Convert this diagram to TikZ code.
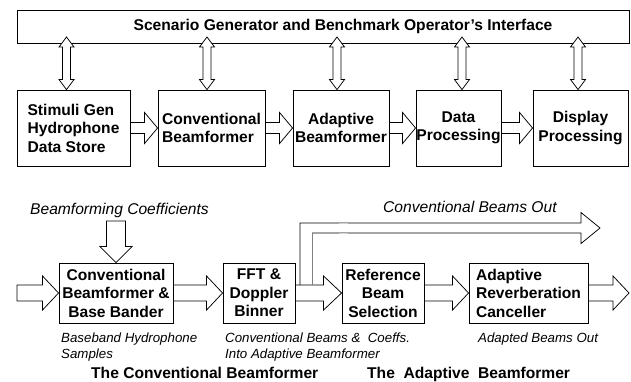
\documentclass[tikz,border=0pt]{standalone}
\usepackage{fontspec}
\setmainfont{Liberation Sans}
\usetikzlibrary{calc}
\tikzset{
  box/.style={draw, line width=0.9pt, inner sep=0pt, align=center,
    font=\bfseries\fontsize{15.6}{18.5}\selectfont},
  fat/.style={draw, line width=0.75pt, fill=white, line join=miter},
  thinl/.style={line width=0.75pt},
  capt/.style={font=\itshape\fontsize{13.3}{16}\selectfont, anchor=base west, inner sep=0pt},
  lbl/.style={font=\itshape\fontsize{15.6}{18}\selectfont, anchor=base west, inner sep=0pt},
  ttl/.style={font=\bfseries\fontsize{15.6}{18}\selectfont, anchor=base west, inner sep=0pt},
}
% horizontal fat arrow: start, tip, half shaft, half head, head length
\newcommand\harrowR[5]{\path[fat] let \p1=(#1), \p2=(#2) in
  (\x1,\y1+#3pt) -- (\x2-#5pt,\y1+#3pt) -- (\x2-#5pt,\y1+#4pt) -- (\x2,\y1)
  -- (\x2-#5pt,\y1-#4pt) -- (\x2-#5pt,\y1-#3pt) -- (\x1,\y1-#3pt) -- cycle;}
% vertical fat arrow pointing down
\newcommand\varrowD[5]{\path[fat] let \p1=(#1), \p2=(#2) in
  (\x1-#3pt,\y1) -- (\x1-#3pt,\y2+#5pt) -- (\x1-#4pt,\y2+#5pt) -- (\x1,\y2)
  -- (\x1+#4pt,\y2+#5pt) -- (\x1+#3pt,\y2+#5pt) -- (\x1+#3pt,\y1) -- cycle;}
% vertical double fat arrow
\newcommand\dvarrow[5]{\path[fat] let \p1=(#1), \p2=(#2) in
  (\x1,\y1) -- (\x1+#4pt,\y1-#5pt) -- (\x1+#3pt,\y1-#5pt) -- (\x1+#3pt,\y2+#5pt)
  -- (\x1+#4pt,\y2+#5pt) -- (\x1,\y2) -- (\x1-#4pt,\y2+#5pt) -- (\x1-#3pt,\y2+#5pt)
  -- (\x1-#3pt,\y1-#5pt) -- (\x1-#4pt,\y1-#5pt) -- cycle;}
\begin{document}
\begin{tikzpicture}[x=1pt,y=-1pt]
\useasboundingbox (0,0) rectangle (631,381);
% top interface box
\node[box, minimum width=612pt, minimum height=33pt] (top) at (323,26.5) {};
\node[ttl, anchor=center] (title) at (343,26.5) {Scenario Generator and Benchmark Operator's Interface};
% top row
\node[box, align=left, minimum width=113pt, minimum height=76pt] (b1) at (73.5,128) {Stimuli Gen\\Hydrophone\\Data Store};
\node[box, align=left, minimum width=107pt, minimum height=76pt] (b2) at (211.5,128) {Conventional\\Beamformer};
\node[box, minimum width=96pt, minimum height=76pt] (b3) at (341,128) {Adaptive\\Beamformer};
\node[box, minimum width=85pt, minimum height=76pt] (b4) at (458.5,128) {Data\\Processing};
\node[box, minimum width=95pt, minimum height=76pt] (b5) at (580.5,128) {Display\\Processing};
% double arrows
\coordinate (d1) at (66.5,37);
\coordinate (d2) at (207,37);
\coordinate (d3) at (337,37);
\coordinate (d4) at (462,37);
\coordinate (d5) at (578,37);
\dvarrow{d1}{d1 |- b1.north}{4}{7.5}{10}
\dvarrow{d2}{d2 |- b2.north}{4}{7.5}{10}
\dvarrow{d3}{d3 |- b3.north}{4}{7.5}{10}
\dvarrow{d4}{d4 |- b4.north}{4}{7.5}{10}
\dvarrow{d5}{d5 |- b5.north}{4}{7.5}{10}
% row arrows
\harrowR{b1.east}{b2.west}{5.5}{15.5}{13}
\harrowR{b2.east}{b3.west}{5.5}{15.5}{13}
\harrowR{b3.east}{b4.west}{5.5}{15.5}{13}
\harrowR{b4.east}{b5.west}{5.5}{15.5}{13}
% lower section labels
\node[lbl] (coefl) at (30,214.5) {Beamforming Coefficients};
\node[lbl] (cbol) at (383,212.5) {Conventional Beams Out};
% lower boxes
\node[box, minimum width=114pt, minimum height=60pt] (c1) at (116,293) {Conventional\\Beamformer \&\\Base Bander};
\node[box, minimum width=72pt, minimum height=60pt] (c2) at (259,293) {FFT \&\\Doppler\\Binner};
\node[box, minimum width=82pt, minimum height=60pt] (c3) at (383,293) {Reference\\Beam\\Selection};
\node[box, align=left, minimum width=119pt, minimum height=60pt] (c4) at (528.5,293) {Adaptive\\Reverberation\\Canceller};
% lower arrows
\coordinate (in) at (17,293);
\coordinate (out) at (629,293);
\coordinate (coef) at (116,221);
\varrowD{coef}{c1.north}{9.5}{16}{16}
\harrowR{in}{c1.west}{8}{17}{16}
\harrowR{c1.east}{c2.west}{8}{17}{16}
\harrowR{c2.east}{c3.west}{8}{17}{18}
\harrowR{c3.east}{c4.west}{8}{17}{16}
\harrowR{c4.east}{out}{8}{17}{16}
% branch: conventional beams out
\coordinate (br1) at (300,285);
\coordinate (br2) at (312,285);
\coordinate (cbo) at (600,228);
\draw[thinl, line join=miter] (br1) -- (br1 |- 0,223) -- (581,223) -- (581,212.5) -- (cbo)
  -- (581,243.5) -- (581,233) -- (br2 |- 0,233);
\draw[thinl, gray] (br2 |- 0,233) -- (br2);
\draw[gray!35, line width=1pt] (339,223) -- (348,223) (339,233) -- (348,233);
% captions
\node[capt] (cap1) at (61,342) {Baseband Hydrophone};
\node[capt] (cap1b) at (61,358) {Samples};
\node[capt] (cap2) at (225,342) {Conventional Beams \&\ \ Coeffs.};
\node[capt] (cap2b) at (225,358) {Into Adaptive Beamformer};
\node[capt] (cap3) at (478,342) {Adapted Beams Out};
% titles
\node[ttl] (t1) at (91,378.5) {The Conventional Beamformer};
\node[ttl] (t2) at (367,378.5) {The\ \ Adaptive\ \ Beamformer};
\end{tikzpicture}
\end{document}
